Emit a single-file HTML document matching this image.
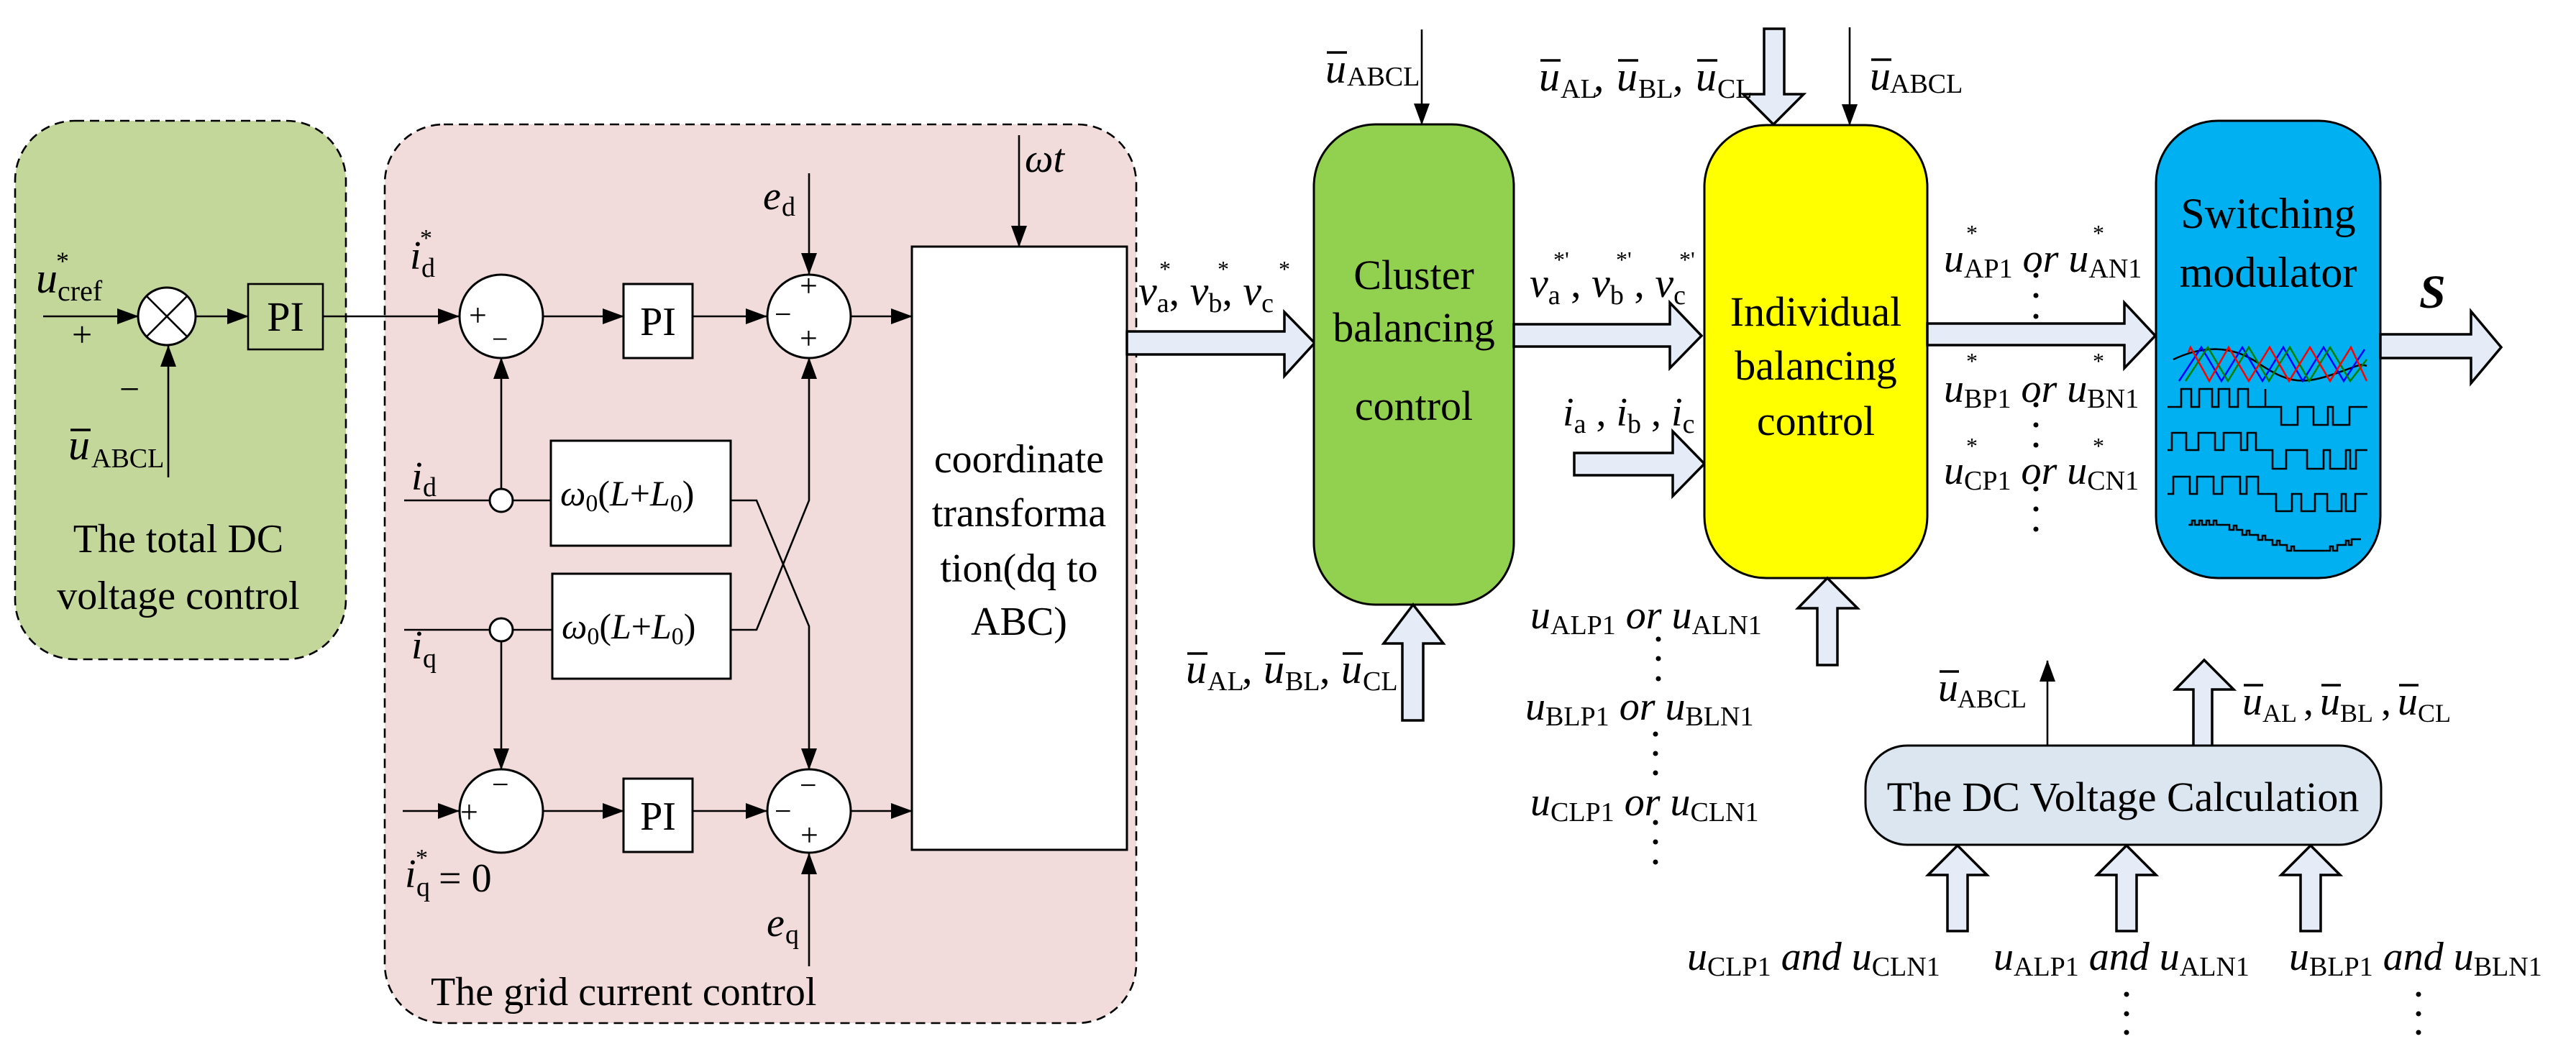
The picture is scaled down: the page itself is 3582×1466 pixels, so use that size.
<!DOCTYPE html>
<html><head><meta charset="utf-8"><style>
html,body{margin:0;padding:0;background:#fff}
svg{display:block;font-family:"Liberation Serif","DejaVu Serif",serif}
svg text{font-family:"Liberation Serif","DejaVu Serif",serif;fill:#000}
.i{font-style:italic}
.ln{stroke:#000;stroke-width:2.6;fill:none}
.bx{stroke:#000;stroke-width:3;fill:#fff}
.ha{fill:#e6ecf7;stroke:#000;stroke-width:3.5;stroke-linejoin:miter}
.bar{stroke:#000;stroke-width:3.5}
</style></head><body>
<svg width="3582" height="1466" viewBox="0 0 3582 1466" xmlns="http://www.w3.org/2000/svg" font-family="Liberation Serif, DejaVu Serif, serif">
<defs>
<marker id="ar" markerWidth="30" markerHeight="22" refX="29" refY="11" orient="auto" markerUnits="userSpaceOnUse">
<path d="M0,0 L30,11 L0,22 Z" fill="#000"/></marker>
</defs>
<g font-family="Liberation Serif, DejaVu Serif, serif">

<rect x="21" y="168" width="460" height="749" rx="83" fill="#c4d79b" stroke="#000" stroke-width="2.6" stroke-dasharray="13,8"/>
<rect x="535" y="173" width="1045" height="1250" rx="82" fill="#f2dcdb" stroke="#000" stroke-width="2.6" stroke-dasharray="13,8"/>

<line class="ln" x1="60" y1="440" x2="192" y2="440" marker-end="url(#ar)"/>
<circle cx="232" cy="440" r="40" class="bx" stroke-width="2.6"/>
<line class="ln" x1="204" y1="412" x2="260" y2="468"/><line class="ln" x1="260" y1="412" x2="204" y2="468"/>
<line class="ln" x1="234" y1="664" x2="234" y2="481" marker-end="url(#ar)"/>
<line class="ln" x1="272" y1="440" x2="345" y2="440" marker-end="url(#ar)"/>
<rect x="345" y="395" width="104" height="91" fill="#c4d79b" stroke="#000" stroke-width="2.6"/>
<text x="397" y="460" font-size="58" text-anchor="middle">PI</text>
<text x="50" y="407" font-size="60" class="i">u</text><text x="80" y="418" font-size="40">cref</text>
<text x="78" y="375" font-size="36">*</text>
<text x="100" y="482" font-size="50">+</text>
<text x="166" y="558" font-size="50">−</text>
<text x="95" y="639" font-size="60" class="i">u</text><line x1="98" y1="598" x2="126" y2="598" class="bar"/>
<text x="127" y="650" font-size="38">ABCL</text>
<text x="248" y="768" font-size="56" text-anchor="middle">The total  DC</text>
<text x="248" y="847" font-size="56" text-anchor="middle">voltage control</text>

<line class="ln" x1="449" y1="440" x2="638" y2="440" marker-end="url(#ar)"/>
<circle cx="697" cy="440" r="58" class="bx" stroke-width="2.6"/>
<text x="652" y="453" font-size="44">+</text><text x="684" y="485" font-size="40">−</text>
<line class="ln" x1="755" y1="440" x2="867" y2="440" marker-end="url(#ar)"/>
<rect x="867" y="395" width="96" height="103" class="bx" stroke-width="2.6"/>
<text x="915" y="466" font-size="56" text-anchor="middle">PI</text>
<line class="ln" x1="963" y1="440" x2="1066" y2="440" marker-end="url(#ar)"/>
<circle cx="1125" cy="440" r="58" class="bx" stroke-width="2.6"/>
<text x="1112" y="412" font-size="44">+</text><text x="1077" y="451" font-size="42">−</text><text x="1112" y="485" font-size="44">+</text>
<line class="ln" x1="1125" y1="241" x2="1125" y2="381" marker-end="url(#ar)"/>
<line class="ln" x1="1183" y1="440" x2="1268" y2="440" marker-end="url(#ar)"/>

<line class="ln" x1="562" y1="696" x2="681" y2="696"/>
<circle cx="697" cy="696" r="16" class="bx" stroke-width="2.6"/>
<line class="ln" x1="697" y1="680" x2="697" y2="498" marker-end="url(#ar)"/>
<line class="ln" x1="713" y1="696" x2="766" y2="696"/>
<rect x="766" y="613" width="250" height="146" class="bx" stroke-width="2.6"/>
<line class="ln" x1="562" y1="876" x2="681" y2="876"/>
<circle cx="697" cy="876" r="16" class="bx" stroke-width="2.6"/>
<line class="ln" x1="697" y1="892" x2="697" y2="1070" marker-end="url(#ar)"/>
<line class="ln" x1="713" y1="876" x2="768" y2="876"/>
<rect x="768" y="798" width="248" height="146" class="bx" stroke-width="2.6"/>
<polyline class="ln" points="1016,696 1052,696 1125,871 1125,1070" marker-end="url(#ar)"/>
<polyline class="ln" points="1016,876 1052,876 1125,696 1125,498" marker-end="url(#ar)"/>
<text x="779" y="703" font-size="50"><tspan class="i">ω</tspan><tspan font-size="34" dy="8">0</tspan><tspan dy="-8">(</tspan><tspan class="i">L</tspan>+<tspan class="i">L</tspan><tspan font-size="34" dy="8">0</tspan><tspan dy="-8">)</tspan></text>
<text x="781" y="888" font-size="50"><tspan class="i">ω</tspan><tspan font-size="34" dy="8">0</tspan><tspan dy="-8">(</tspan><tspan class="i">L</tspan>+<tspan class="i">L</tspan><tspan font-size="34" dy="8">0</tspan><tspan dy="-8">)</tspan></text>

<line class="ln" x1="560" y1="1128" x2="638" y2="1128" marker-end="url(#ar)"/>
<circle cx="697" cy="1128" r="58" class="bx" stroke-width="2.6"/>
<text x="640" y="1144" font-size="44">+</text><text x="684" y="1105" font-size="42">−</text>
<line class="ln" x1="755" y1="1128" x2="867" y2="1128" marker-end="url(#ar)"/>
<rect x="867" y="1083" width="96" height="102" class="bx" stroke-width="2.6"/>
<text x="915" y="1154" font-size="56" text-anchor="middle">PI</text>
<line class="ln" x1="963" y1="1128" x2="1066" y2="1128" marker-end="url(#ar)"/>
<circle cx="1125" cy="1128" r="58" class="bx" stroke-width="2.6"/>
<text x="1112" y="1106" font-size="42">−</text><text x="1077" y="1142" font-size="42">−</text><text x="1113" y="1176" font-size="44">+</text>
<line class="ln" x1="1125" y1="1344" x2="1125" y2="1187" marker-end="url(#ar)"/>
<line class="ln" x1="1183" y1="1128" x2="1268" y2="1128" marker-end="url(#ar)"/>

<text x="570" y="374" font-size="56" class="i">i</text><text x="586" y="385" font-size="38">d</text><text x="584" y="342" font-size="34">*</text>
<text x="572" y="681" font-size="56" class="i">i</text><text x="588" y="690" font-size="38">d</text>
<text x="572" y="916" font-size="56" class="i">i</text><text x="588" y="928" font-size="38">q</text>
<text x="563" y="1234" font-size="56" class="i">i</text><text x="579" y="1246" font-size="38">q</text><text x="578" y="1204" font-size="34">*</text>
<text x="610" y="1240" font-size="56">= 0</text>
<text x="1061" y="291" font-size="56" class="i">e</text><text x="1087" y="300" font-size="38">d</text>
<text x="1066" y="1302" font-size="56" class="i">e</text><text x="1092" y="1312" font-size="38">q</text>
<text x="599" y="1398" font-size="56">The grid current control</text>

<line class="ln" x1="1417" y1="188" x2="1417" y2="343" marker-end="url(#ar)"/>
<text x="1425" y="239" font-size="56" class="i">ωt</text>
<rect x="1268" y="343" width="299" height="839" class="bx" stroke-width="2.6"/>
<text x="1417" y="657" font-size="56" text-anchor="middle">coordinate</text>
<text x="1417" y="732" font-size="56" text-anchor="middle">transforma</text>
<text x="1417" y="809" font-size="56" text-anchor="middle">tion(dq  to</text>
<text x="1417" y="883" font-size="56" text-anchor="middle">ABC)</text>

<polygon class="ha" points="1567,461 1786,461 1786,434 1828,477 1786,523 1786,493 1567,493"/>
<text x="1583" y="424" font-size="58"><tspan class="i">v</tspan><tspan font-size="38" dy="10">a</tspan><tspan dy="-10">, </tspan><tspan class="i">v</tspan><tspan font-size="38" dy="10">b</tspan><tspan dy="-10">, </tspan><tspan class="i">v</tspan><tspan font-size="38" dy="10">c</tspan></text>
<text x="1612" y="385" font-size="32">*</text><text x="1693" y="385" font-size="32">*</text><text x="1778" y="385" font-size="32">*</text>

<line class="ln" x1="1977" y1="41" x2="1977" y2="173" marker-end="url(#ar)"/>
<text x="1843" y="115" font-size="58" class="i">u</text><line x1="1845" y1="73" x2="1873" y2="73" class="bar"/><text x="1873" y="119" font-size="38">ABCL</text>
<rect x="1827" y="173" width="278" height="668" rx="86" fill="#92d050" stroke="#000" stroke-width="3"/>
<text x="1966" y="402" font-size="58" text-anchor="middle">Cluster</text>
<text x="1966" y="475" font-size="58" text-anchor="middle">balancing</text>
<text x="1966" y="584" font-size="58" text-anchor="middle">control</text>
<polygon class="ha" points="1950,1002 1950,895 1924,895 1965,841 2007,895 1979,895 1979,1002"/>
<!-- bottom cluster label -->
<g font-size="58">
<text x="1649" y="950" class="i">u</text><text x="1679" y="960" font-size="38">AL</text><text x="1727" y="950">,</text>
<text x="1757" y="950" class="i">u</text><text x="1787" y="960" font-size="38">BL</text><text x="1835" y="950">,</text>
<text x="1865" y="950" class="i">u</text><text x="1895" y="960" font-size="38">CL</text>
</g>
<line x1="1651" y1="909" x2="1679" y2="909" class="bar"/><line x1="1759" y1="909" x2="1787" y2="909" class="bar"/><line x1="1867" y1="909" x2="1895" y2="909" class="bar"/>

<polygon class="ha" points="2105,451 2322,451 2322,421 2366,467 2322,512 2322,482 2105,482"/>
<text x="2127" y="413" font-size="58"><tspan class="i">v</tspan><tspan font-size="38" dy="10">a</tspan><tspan dy="-10"> , </tspan><tspan class="i">v</tspan><tspan font-size="38" dy="10">b</tspan><tspan dy="-10"> , </tspan><tspan class="i">v</tspan><tspan font-size="38" dy="10">c</tspan></text>
<text x="2160" y="372" font-size="32">*'</text><text x="2247" y="372" font-size="32">*'</text><text x="2335" y="372" font-size="32">*'</text>
<polygon class="ha" points="2189,630 2326,630 2326,600 2370,645 2326,690 2326,661 2189,661"/>
<text x="2173" y="592" font-size="56"><tspan class="i">i</tspan><tspan font-size="38" dy="10">a</tspan><tspan dy="-10"> ,  </tspan><tspan class="i">i</tspan><tspan font-size="38" dy="10">b</tspan><tspan dy="-10"> , </tspan><tspan class="i">i</tspan><tspan font-size="38" dy="10">c</tspan></text>

<polygon class="ha" points="2453,40 2481,40 2481,131 2508,131 2466,173 2424,131 2453,131"/>
<line class="ln" x1="2572" y1="38" x2="2572" y2="174" marker-end="url(#ar)"/>
<text x="2600" y="125" font-size="58" class="i">u</text><line x1="2602" y1="83" x2="2630" y2="83" class="bar"/><text x="2628" y="129" font-size="38">ABCL</text>
<!-- top individual label -->
<g font-size="58">
<text x="2140" y="126" class="i">u</text><text x="2170" y="136" font-size="38">AL</text><text x="2216" y="126">,</text>
<text x="2248" y="126" class="i">u</text><text x="2278" y="136" font-size="38">BL</text><text x="2326" y="126">,</text>
<text x="2358" y="126" class="i">u</text><text x="2388" y="136" font-size="38">CL</text>
</g>
<line x1="2142" y1="84" x2="2170" y2="84" class="bar"/><line x1="2250" y1="84" x2="2278" y2="84" class="bar"/><line x1="2360" y1="84" x2="2388" y2="84" class="bar"/>
<rect x="2370" y="174" width="310" height="630" rx="86" fill="#ffff00" stroke="#000" stroke-width="3"/>
<text x="2525" y="453" font-size="58" text-anchor="middle">Individual</text>
<text x="2525" y="528" font-size="58" text-anchor="middle">balancing</text>
<text x="2525" y="605" font-size="58" text-anchor="middle">control</text>
<polygon class="ha" points="2527,925 2527,846 2500,846 2541,804 2583,846 2555,846 2555,925"/>

<polygon class="ha" points="2680,450 2954,450 2954,421 2997,467 2954,512 2954,480 2680,480"/>
<g font-size="56">
<text x="2703" y="378"><tspan class="i">u</tspan><tspan font-size="38" dy="8">AP1</tspan><tspan dy="-8" class="i"> or </tspan><tspan class="i">u</tspan><tspan font-size="38" dy="8">AN1</tspan></text>
<text x="2703" y="559"><tspan class="i">u</tspan><tspan font-size="38" dy="8">BP1</tspan><tspan dy="-8" class="i"> or </tspan><tspan class="i">u</tspan><tspan font-size="38" dy="8">BN1</tspan></text>
<text x="2703" y="673"><tspan class="i">u</tspan><tspan font-size="38" dy="8">CP1</tspan><tspan dy="-8" class="i"> or </tspan><tspan class="i">u</tspan><tspan font-size="38" dy="8">CN1</tspan></text>
</g>
<g font-size="32"><text x="2734" y="335">*</text><text x="2910" y="335">*</text><text x="2734" y="513">*</text><text x="2910" y="513">*</text><text x="2734" y="631">*</text><text x="2910" y="631">*</text></g>
<g fill="#000"><circle cx="2831" cy="383" r="3.5"/><circle cx="2831" cy="411" r="3.5"/><circle cx="2831" cy="440" r="3.5"/>
<circle cx="2831" cy="563" r="3.5"/><circle cx="2831" cy="591" r="3.5"/><circle cx="2831" cy="619" r="3.5"/>
<circle cx="2831" cy="680" r="3.5"/><circle cx="2831" cy="708" r="3.5"/><circle cx="2831" cy="736" r="3.5"/></g>

<rect x="2998" y="168" width="312" height="636" rx="86" fill="#00b0f0" stroke="#000" stroke-width="3"/>
<text x="3154" y="317" font-size="60" text-anchor="middle">Switching</text>
<text x="3154" y="399" font-size="60" text-anchor="middle">modulator</text>
<path d="M3022,500 C3060,482 3100,478 3140,505 S3200,535 3240,522 S3280,505 3291,509" stroke="#000" stroke-width="2.5" fill="none"/>
<polyline points="3030,530 3061,483 3089,530 3118,483 3146,530 3175,483 3202,530 3231,483 3259,530 3288,486" stroke="#0000ff" stroke-width="2.5" fill="none"/>
<polyline points="3039,530 3070,483 3098,530 3127,483 3155,530 3184,483 3211,530 3240,483 3268,530 3291,500" stroke="#008000" stroke-width="2.5" fill="none"/>
<polyline points="3043,490 3046,483 3072,530 3099,483 3127,530 3156,483 3183,530 3212,483 3240,530 3269,483 3291,530" stroke="#ff0000" stroke-width="2.5" fill="none"/>
<g stroke="#000" stroke-width="2.6" fill="none">
<path d="M3014,566 H3033 V541 H3047 V566 H3058 V541 H3076 V566 H3085 V541 H3100 V566 H3112 V541 H3126 V566 H3150 V541 V566 H3172 V591 H3195 V566 H3217 V591 H3237 V566 H3244 V591 H3267 V566 H3292"/>
<path d="M3014,626 H3020 V602 H3040 V626 H3057 V602 H3080 V626 H3092 V602 H3116 V626 H3125 V602 H3137 V626 H3160 V652 H3179 V626 H3208 V652 H3231 V626 H3240 V652 H3262 V626 H3268 V652 H3276 V626 H3292"/>
<path d="M3014,687 H3022 V663 H3045 V687 H3055 V663 H3078 V687 H3090 V663 H3115 V687 H3124 V663 H3140 V687 H3165 V711 H3187 V687 H3200 V711 H3219 V687 H3236 V711 H3256 V687 H3262 V711 H3275 V687 H3292"/>
<path d="M3043,730 H3048 V724 H3052 V730 H3058 V724 H3062 V730 H3068 V724 H3072 V730 H3078 V724 H3082 V730 H3100 V737 H3106 V731 H3110 V737 H3118 V744 H3124 V738 H3128 V744 H3140 V751 H3146 V745 H3150 V751 H3160 V758 H3166 V752 H3170 V758 H3180 V766 H3186 V760 H3190 V766 H3240 V760 H3244 V766 H3250 V758 H3262 V752 H3266 V758 H3270 V750 H3283"/>
</g>
<polygon class="ha" points="3310,465 3436,465 3436,433 3478,483 3436,533 3436,498 3310,498"/>
<text x="3364" y="428" font-size="66" font-weight="bold" class="i">S</text>

<g font-size="56">
<text x="2128" y="874"><tspan class="i">u</tspan><tspan font-size="38" dy="8">ALP1</tspan><tspan dy="-8" class="i"> or  </tspan><tspan class="i">u</tspan><tspan font-size="38" dy="8">ALN1</tspan></text>
<text x="2121" y="1001"><tspan class="i">u</tspan><tspan font-size="38" dy="8">BLP1</tspan><tspan dy="-8" class="i"> or  </tspan><tspan class="i">u</tspan><tspan font-size="38" dy="8">BLN1</tspan></text>
<text x="2128" y="1134"><tspan class="i">u</tspan><tspan font-size="38" dy="8">CLP1</tspan><tspan dy="-8" class="i"> or  </tspan><tspan class="i">u</tspan><tspan font-size="38" dy="8">CLN1</tspan></text>
</g>
<g fill="#000"><circle cx="2306" cy="889" r="3.5"/><circle cx="2306" cy="916" r="3.5"/><circle cx="2306" cy="944" r="3.5"/>
<circle cx="2302" cy="1021" r="3.5"/><circle cx="2302" cy="1048" r="3.5"/><circle cx="2302" cy="1075" r="3.5"/>
<circle cx="2302" cy="1144" r="3.5"/><circle cx="2302" cy="1171" r="3.5"/><circle cx="2302" cy="1199" r="3.5"/>
<circle cx="2957" cy="1383" r="3.5"/><circle cx="2957" cy="1410" r="3.5"/><circle cx="2957" cy="1436" r="3.5"/>
<circle cx="3363" cy="1383" r="3.5"/><circle cx="3363" cy="1410" r="3.5"/><circle cx="3363" cy="1436" r="3.5"/></g>

<line class="ln" x1="2847" y1="1037" x2="2847" y2="919" marker-end="url(#ar)"/>
<text x="2695" y="975" font-size="56" class="i">u</text><line x1="2697" y1="934" x2="2724" y2="934" class="bar"/><text x="2722" y="984" font-size="36">ABCL</text>
<polygon class="ha" points="3050,1038 3050,959 3025,959 3065,918 3106,959 3076,959 3076,1038"/>
<g font-size="56">
<text x="3118" y="994" class="i">u</text><text x="3146" y="1004" font-size="36">AL</text><text x="3203" y="994">,</text>
<text x="3226" y="994" class="i">u</text><text x="3254" y="1004" font-size="36">BL</text><text x="3311" y="994">,</text>
<text x="3334" y="994" class="i">u</text><text x="3362" y="1004" font-size="36">CL</text>
</g>
<line x1="3120" y1="953" x2="3147" y2="953" class="bar"/><line x1="3228" y1="953" x2="3255" y2="953" class="bar"/><line x1="3336" y1="953" x2="3363" y2="953" class="bar"/>
<rect x="2594" y="1037" width="717" height="138" rx="58" fill="#dce6f1" stroke="#000" stroke-width="3"/>
<text x="2952" y="1128" font-size="58" text-anchor="middle">The DC Voltage Calculation</text>
<polygon class="ha" points="2708,1295 2708,1217 2681,1217 2722,1176 2763,1217 2736,1217 2736,1295"/>
<polygon class="ha" points="2943,1295 2943,1217 2916,1217 2957,1176 2998,1217 2971,1217 2971,1295"/>
<polygon class="ha" points="3199,1295 3199,1217 3172,1217 3213,1176 3254,1217 3227,1217 3227,1295"/>
<g font-size="56">
<text x="2346" y="1349"><tspan class="i">u</tspan><tspan font-size="38" dy="8">CLP1</tspan><tspan dy="-8" class="i"> and  </tspan><tspan class="i">u</tspan><tspan font-size="38" dy="8">CLN1</tspan></text>
<text x="2772" y="1349"><tspan class="i">u</tspan><tspan font-size="38" dy="8">ALP1</tspan><tspan dy="-8" class="i"> and </tspan><tspan class="i">u</tspan><tspan font-size="38" dy="8">ALN1</tspan></text>
<text x="3183" y="1349"><tspan class="i">u</tspan><tspan font-size="38" dy="8">BLP1</tspan><tspan dy="-8" class="i">  and  </tspan><tspan class="i">u</tspan><tspan font-size="38" dy="8">BLN1</tspan></text>
</g>
</g>
</svg>
</body></html>
